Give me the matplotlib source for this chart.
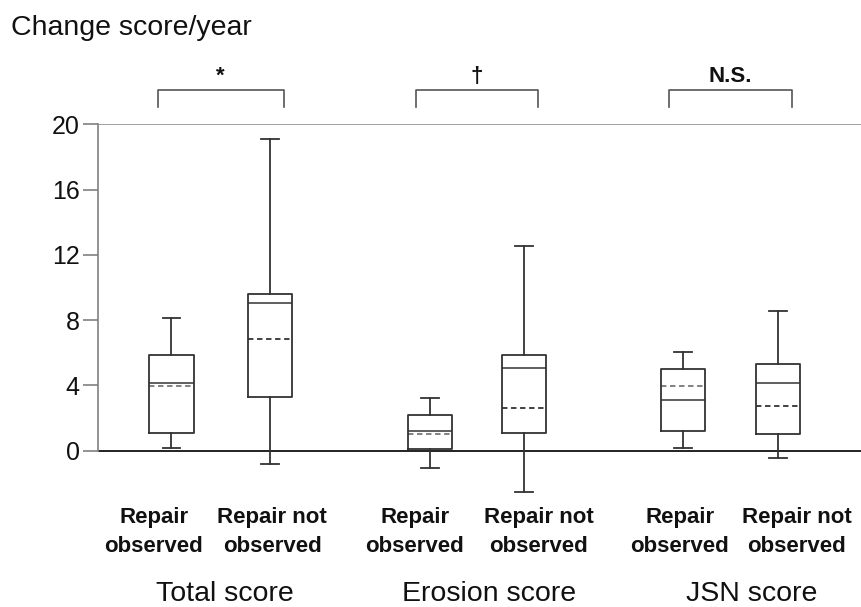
import matplotlib
matplotlib.use("Agg")
import matplotlib.pyplot as plt

plt.rcParams['font.family'] = ['Liberation Sans', 'DejaVu Sans']

# ---- data ----
groups = ["Total score", "Erosion score", "JSN score"]
sub_line1 = ["Repair", "Repair not"]
sub_line2 = ["observed", "observed"]
whislo = [0.19, -0.82, -1.08, -2.5, 0.19, -0.45]
q1     = [1.10, 3.27, 0.10, 1.10, 1.18, 1.02]
med    = [4.17, 9.03, 1.21, 5.05, 3.09, 4.17]
mean   = [3.96, 6.87, 1.02, 2.64, 3.96, 2.72]
q3     = [5.86, 9.60, 2.19, 5.86, 4.98, 5.31]
whishi = [8.11, 19.1, 3.25, 12.54, 6.05, 8.56]
signif = ["*", "\u2020", "N.S."]
yticks = [0, 4, 8, 12, 16, 20]

# ---- layout ----
positions = [0.753, 1.759, 3.391, 4.350, 5.972, 6.941]
sub_label_x = [0.574, 1.780, 3.238, 4.503, 5.942, 7.135]
group_label_x = [1.299, 3.993, 6.676]

fig = plt.figure(figsize=(8.62, 6.07), dpi=100)
ax = fig.add_axes([0.1133, 0.1768, 0.8867, 0.6184])
ax.set_xlim(0, 7.8)
ax.set_ylim(-3, 20)

stats = []
for i in range(6):
    stats.append(dict(whislo=whislo[i], q1=q1[i], med=med[i], mean=mean[i],
                      q3=q3[i], whishi=whishi[i], fliers=[]))

lc = '#333333'
res = ax.bxp(stats, positions=positions, widths=0.45, capwidths=0.18,
             showmeans=True, meanline=True, showfliers=False,
             boxprops=dict(color=lc, linewidth=1.3),
             whiskerprops=dict(color=lc, linewidth=1.3),
             capprops=dict(color=lc, linewidth=1.3),
             medianprops=dict(color=lc, linewidth=1.1),
             meanprops=dict(color='#333333', linewidth=1.3, linestyle=(0, (3, 2))))
for i, m in enumerate(res['means']):
    if i % 2 == 0:
        m.set_color('#777777')
for el in res['whiskers'] + res['caps'] + res['boxes']:
    el.set_zorder(3)

# axes styling
for s in ['top', 'right', 'bottom']:
    ax.spines[s].set_visible(False)
ax.spines['left'].set_bounds(0, 20)
ax.spines['left'].set_color('#808080')
ax.spines['left'].set_linewidth(1.2)
ax.axhline(20, color='#999999', linewidth=1.3, zorder=1)
ax.axhline(0, color='#222222', linewidth=1.4, zorder=2)
ax.set_yticks(yticks)
ax.set_yticklabels([str(t) for t in yticks], fontsize=18, color='#111111')
ax.tick_params(axis='y', length=11, width=1.2, color='#808080', pad=2)
ax.yaxis.get_major_ticks()[0].tick1line.set_color('#222222')
ax.set_xticks([])

# brackets and significance
for g in range(3):
    x0 = positions[2 * g] - 0.14
    x1 = positions[2 * g + 1] + 0.14
    ax.plot([x0, x0, x1, x1], [21.06, 22.1, 22.1, 21.06], color='#555555',
            linewidth=1.2, clip_on=False)
    ax.text((x0 + x1) / 2, 22.59, signif[g], ha='center', va='baseline',
            fontsize=16, fontweight='bold', color='#111111', clip_on=False)

# category labels
for i, p in enumerate(sub_label_x):
    ax.text(p, -4.43, sub_line1[i % 2], ha='center', va='baseline', fontsize=16,
            fontweight='bold', color='#111111', clip_on=False)
    ax.text(p, -6.21, sub_line2[i % 2], ha='center', va='baseline', fontsize=16,
            fontweight='bold', color='#111111', clip_on=False)
for g in range(3):
    ax.text(group_label_x[g], -9.2, groups[g], ha='center', va='baseline',
            fontsize=20.5, color='#111111', clip_on=False)

fig.text(11 / 862, 1 - 35 / 607, "Change score/year", ha='left', va='baseline',
         fontsize=20.5, color='#111111')

fig.savefig("out.png", dpi=100)
